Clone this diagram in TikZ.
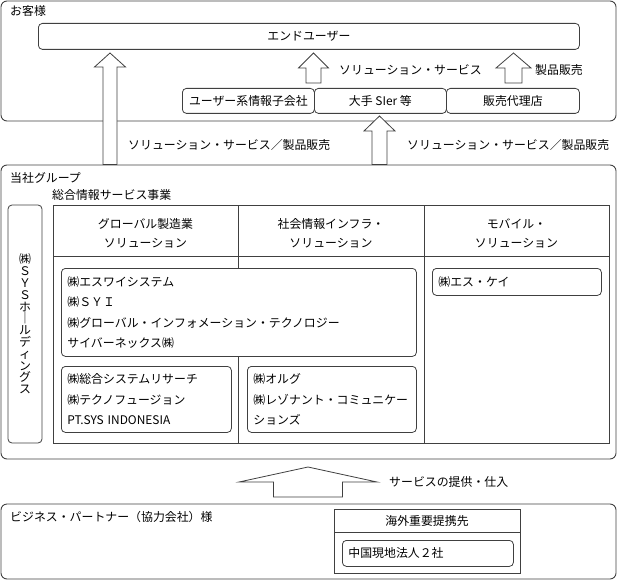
\documentclass[tikz,border=0pt]{standalone}
\usepackage{fontspec}
\setmainfont{Noto Sans CJK JP}
\usetikzlibrary{positioning}
% HOLLOW UP ARROW: x of centre, y of foot, y of tip, half shaft, half head, head length
\newcommand{\blockarrow}[6]{%
  \draw[barrow] ({#1-#4},#2) -- ({#1-#4},{#3+#6}) -- ({#1-#5},{#3+#6}) -- (#1,#3)
    -- ({#1+#5},{#3+#6}) -- ({#1+#4},{#3+#6}) -- ({#1+#4},#2) -- cycle;}
\tikzset{
  outer/.style={draw=black!75,line width=0.9pt,rounded corners=6pt},
  unit/.style={draw=black!75,line width=0.8pt,rounded corners=4pt,fill=white,inner sep=0pt},
  barrow/.style={draw=black!75,line width=0.8pt,fill=white},
  grid/.style={draw=black!75,line width=0.8pt},
  txt/.style={anchor=west,inner sep=0pt},
  list/.style={unit,anchor=north west,align=left,inner xsep=6pt,font=\fontsize{11.9}{20.5}\selectfont},
}
\begin{document}
\begin{tikzpicture}[x=1pt,y=-1pt,font=\fontsize{11.9}{14}\selectfont]
\useasboundingbox (0,0) rectangle (617,580);
% CUSTOMERS
\draw[outer] (1,1) rectangle (616,121);
\node[txt] (cust) at (10,11) {お客様};
\node[unit,anchor=north west,minimum width=541pt,minimum height=26pt] (eu) at (38,23) {エンドユーザー};
\node[unit,anchor=north west,minimum width=132pt,minimum height=25pt] (sub) at (182,88) {ユーザー系情報子会社};
\node[unit,minimum width=132pt,minimum height=25pt,right=-0.8pt of sub] (sier) {大手 SIer 等};
\node[unit,minimum width=133pt,minimum height=25pt,right=-0.8pt of sier] (dealer) {販売代理店};
\node[txt] (solsvc) at (339,70) {ソリューション・サービス};
\node[txt] (prod) at (535,70) {製品販売};
% FLOW LABELS
\node[txt] (flowl) at (128,145) {ソリューション・サービス／製品販売};
\node[txt] (flowr) at (407,145) {ソリューション・サービス／製品販売};
% OUR GROUP
\draw[outer] (1,165) rectangle (616,459);
\node[txt] (grp) at (10,178) {当社グループ};
\node[txt] (biz) at (52,195) {総合情報サービス事業};
\node[unit,minimum width=34pt,minimum height=238pt,align=center,
  font=\fontsize{11.9}{11.8}\selectfont] (hd) at (25,324)
  {㈱\\Ｓ\\Ｙ\\Ｓ\\ホ\\｜\\ル\\デ\\ィ\\ン\\グ\\ス};
% TABLE
\draw[grid] (53,205) rectangle (609,443);
\draw[grid] (53,256) -- (609,256);
\draw[grid] (238,205) -- (238,443);
\draw[grid] (424,205) -- (424,443);
\node[align=center,font=\fontsize{11.9}{19}\selectfont] (mfg) at (145.5,233.5) {グローバル製造業\\ソリューション};
\node[align=center,font=\fontsize{11.9}{19}\selectfont] (infra) at (331,233.5) {社会情報インフラ・\\ソリューション};
\node[align=center,font=\fontsize{11.9}{19}\selectfont] (mob) at (516.5,233.5) {モバイル・\\ソリューション};
% COMPANIES
\node[list,text width=343pt,minimum height=88pt] (ca) at (61,268)
  {㈱エスワイシステム\\㈱ＳＹＩ\\㈱グローバル・インフォメーション・テクノロジー\\サイバーネックス㈱};
\node[list,text width=157pt,minimum height=27pt] (sk) at (432,268) {㈱エス・ケイ};
\node[list,text width=158pt,minimum height=66pt] (cb) at (61,366)
  {㈱総合システムリサーチ\\㈱テクノフュージョン\\PT.SYS INDONESIA};
\node[list,text width=157pt,minimum height=66pt] (cc) at (247,366)
  {㈱オルグ\\㈱レゾナント・コミュニケー\\ションズ};
% ARROWS
\blockarrow{110}{164.5}{53}{7}{15.5}{14}
\blockarrow{313.5}{83}{53}{7.5}{15}{15}
\blockarrow{513.5}{83}{53}{8.5}{17.5}{15}
\blockarrow{379.5}{164.5}{116}{7.5}{15.5}{15}
\blockarrow{308}{497}{467}{34.5}{69}{15}
\node[txt] (supply) at (389,482) {サービスの提供・仕入};
% PARTNERS
\draw[outer] (1,504) rectangle (616,579);
\node[txt] (bp) at (10,517) {ビジネス・パートナー（協力会社）様};
\draw[grid] (334,509) rectangle (520,573);
\draw[grid] (334,532) -- (520,532);
\node (ovs) at (427,521) {海外重要提携先};
\node[list,text width=159pt,minimum height=26pt] (cn) at (342,540) {中国現地法人２社};
\end{tikzpicture}
\end{document}
